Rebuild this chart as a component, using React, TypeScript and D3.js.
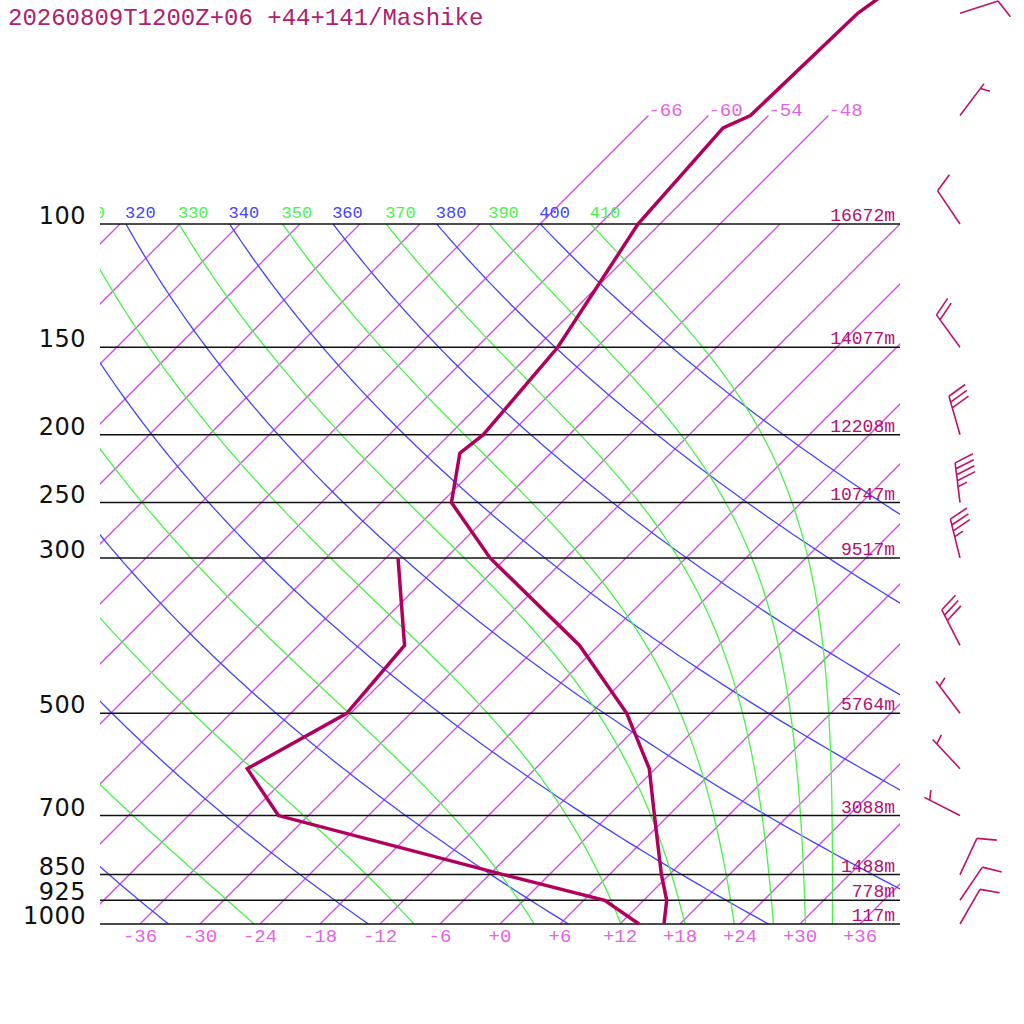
import React from 'react';
import * as d3 from 'd3';

// ---------- data ----------
const titleText = '20260809T1200Z+06 +44+141/Mashike';

const pressureLines = [1000, 925, 850, 700, 500, 300, 250, 200, 150, 100];
const pressureLabels = ['1000', '925', '850', '700', '500', '300', '250', '200', '150', '100'];
const heightLabels = ['117m', '778m', '1488m', '3088m', '5764m', '9517m', '10747m', '12208m', '14077m', '16672m'];

const tempP = [1000, 925, 850, 700, 600, 500, 400, 300, 250, 212.5, 200, 150, 100, 72.9, 70, 50, 30];
const tempT = [16.4, 14.3, 11.2, 4.6, -0.6, -8.4, -19.9, -37.6, -47.0, -51.1, -50.6, -51.9, -56.2, -57.3, -55.8, -55.3, -49.3];

const dewP = [1000, 925, 850, 700, 600, 500, 400, 300];
const dewT = [13.9, 8.1, -4.6, -33.0, -40.8, -36.4, -37.4, -46.8];

const windP = [1000, 925, 850, 700, 600, 500, 400, 300, 250, 200, 150, 100, 70, 50];
const windDir = [30, 34, 25, 297, 317, 323, 333, 346, 353, 344, 324, 326, 37, 72];
const windSpd = [10, 10, 10, 5, 5, 5, 30, 35, 45, 30, 20, 10, 5, 10];

const bottomTicks = [-36, -30, -24, -18, -12, -6, 0, 6, 12, 18, 24, 30, 36];
const upperIsotherms = [-66, -60, -54, -48];
const dryAdiabats = [240, 260, 280, 300, 320, 340, 360, 380, 400];
const moistAdiabats = [250, 270, 290, 310, 330, 350, 370, 390, 410];
const adiabatLabels = [310, 320, 330, 340, 350, 360, 370, 380, 390, 400, 410];

// ---------- geometry ----------
const X0 = 100, X1 = 900, YB = 924, YT = 224;
const yScale = d3.scaleLog().domain([1000, 100]).range([YB, YT]);
const tScale = d3.scaleLinear().domain([-40, 40]).range([X0, X1]);
const sx = (T: number, p: number) => tScale(T) + (YB - yScale(p));

const ISO = 'rgb(216,72,236)';
const ISO_LABEL = 'rgb(226,100,226)';
const BLUE = 'rgb(68,68,255)';
const GREEN = 'rgb(72,244,72)';
const TEMP = 'rgb(176,0,92)';
const HEIGHT = 'rgb(176,16,112)';
const TITLE = 'rgb(176,32,110)';
const BARB = 'rgb(192,16,106)';

function thetaE(Tk: number, p: number) {
  const tc = Tk - 273.15;
  const es = 6.112 * Math.exp((17.67 * tc) / (tc + 243.5));
  if (es > 0.5 * p) return 1e4;
  const r = (622 * es) / (p - es);
  return (
    Tk * Math.pow(1000 / p, 0.2854 * (1 - 0.00028 * r)) *
    Math.exp((3.376 / Tk - 0.00254) * r * (1 + 0.00081 * r))
  );
}
function moistT(te: number, p: number) {
  let lo = 150, hi = 360;
  for (let i = 0; i < 60; i++) {
    const mid = (lo + hi) / 2;
    if (thetaE(mid, p) < te) lo = mid; else hi = mid;
  }
  return (lo + hi) / 2 - 273.15;
}
const dryT = (th: number, p: number) => th * Math.pow(p / 1000, 0.2857) - 273.15;

const pSamples = d3.range(0, 121).map((i) => 1000 * Math.pow(0.1, i / 120));
const lineGen = d3
  .line<[number, number]>()
  .x((d) => sx(d[0], d[1]))
  .y((d) => yScale(d[1]));

const isoValues = d3.range(-108, 37, 6);

function Barb({ p, dir, spd }: { p: number; dir: number; spd: number }) {
  const bx = 960, by = yScale(p);
  const d = (dir * Math.PI) / 180;
  const ux = Math.sin(d), uy = -Math.cos(d);
  const L = 40, step = 6;
  const fa = d + (70 * Math.PI) / 180;
  const fx = Math.sin(fa), fy = -Math.cos(fa);
  const tx = bx + L * ux, ty = by + L * uy;
  const full = Math.floor(spd / 10);
  const half = spd % 10 >= 5;
  const segs: Array<[number, number, number, number]> = [];
  for (let i = 0; i < full; i++) {
    const sx0 = tx - i * step * ux, sy0 = ty - i * step * uy;
    segs.push([sx0, sy0, sx0 + 20 * fx, sy0 + 20 * fy]);
  }
  if (half) {
    const i = full === 0 ? 1 : full;
    const sx0 = tx - i * step * ux, sy0 = ty - i * step * uy;
    segs.push([sx0, sy0, sx0 + 10 * fx, sy0 + 10 * fy]);
  }
  return (
    <g>
      <line x1={bx} y1={by} x2={tx} y2={ty} stroke={BARB} strokeWidth={1.6} />
      {segs.map((s, i) => (
        <line key={i} x1={s[0]} y1={s[1]} x2={s[2]} y2={s[3]} stroke={BARB} strokeWidth={1.6} />
      ))}
    </g>
  );
}

export default function App() {
  const tempPts = tempP.map((p, i) => [tempT[i], p] as [number, number]);
  const dewPts = dewP.map((p, i) => [dewT[i], p] as [number, number]);
  const mono = "'Liberation Mono', 'DejaVu Sans Mono', monospace";

  return (
    <svg
      width={1024}
      height={1024}
      style={{ position: 'absolute', left: 0, top: 0, background: '#fff' }}
    >
      <defs>
        <clipPath id="plotClip">
          <rect x={X0} y={YT} width={X1 - X0} height={YB - YT} />
        </clipPath>
        <clipPath id="labClip">
          <rect x={X0} y={0} width={1024 - X0} height={1024} />
        </clipPath>
      </defs>
      <rect x={0} y={0} width={1024} height={1024} fill="#fff" />

      <text x={8} y={25} fontFamily={mono} fontSize={24} fill={TITLE}>
        {titleText}
      </text>

      {/* isotherms */}
      <g clipPath="url(#plotClip)">
        {isoValues.map((T) => (
          <path key={T} d={lineGen([[T, 1000], [T, 100]]) || ''} fill="none" stroke={ISO} strokeWidth={1.3} />
        ))}
      </g>
      {upperIsotherms.map((T) => (
        <path key={'u' + T} d={lineGen([[T, 100], [T, 70]]) || ''} fill="none" stroke={ISO} strokeWidth={1.3} />
      ))}
      {upperIsotherms.map((T) => (
        <text key={'l' + T} x={sx(T, 70)} y={yScale(70)} fontFamily={mono} fontSize={19} fill={ISO_LABEL}>
          {String(T)}
        </text>
      ))}

      {/* dry adiabats */}
      <g clipPath="url(#plotClip)">
        {dryAdiabats.map((th) => (
          <path
            key={th}
            d={lineGen(pSamples.map((p) => [dryT(th, p), p] as [number, number])) || ''}
            fill="none"
            stroke={BLUE}
            strokeWidth={1.3}
          />
        ))}
      </g>
      {/* moist adiabats */}
      <g clipPath="url(#plotClip)">
        {moistAdiabats.map((te) => (
          <path
            key={te}
            d={lineGen(pSamples.map((p) => [moistT(te, p), p] as [number, number])) || ''}
            fill="none"
            stroke={GREEN}
            strokeWidth={1.3}
          />
        ))}
      </g>
      <g clipPath="url(#labClip)">
        {adiabatLabels.map((v) => {
          const isDry = (v / 10) % 2 === 0;
          const T = isDry ? dryT(v, 100) : moistT(v, 100);
          return (
            <text key={v} x={sx(T, 100) - 1} y={218} fontFamily={mono} fontSize={17} fill={isDry ? BLUE : GREEN}>
              {String(v)}
            </text>
          );
        })}
      </g>

      {/* pressure lines */}
      {pressureLines.map((p, i) => (
        <g key={p}>
          <line x1={X0} x2={X1} y1={yScale(p)} y2={yScale(p)} stroke="#111" strokeWidth={1.5} />
          <text
            x={86}
            y={yScale(p)}
            textAnchor="end"
            fontFamily="'DejaVu Sans', sans-serif"
            fontSize={24}
            letterSpacing={0.5}
            fill="#111"
          >
            {pressureLabels[i]}
          </text>
          <text x={895} y={yScale(p) - 3} textAnchor="end" fontFamily={mono} fontSize={18} fill={HEIGHT}>
            {heightLabels[i]}
          </text>
        </g>
      ))}

      {/* bottom ticks */}
      {bottomTicks.map((T) => (
        <text key={T} x={tScale(T)} y={942} textAnchor="middle" fontFamily={mono} fontSize={19} fill={ISO_LABEL}>
          {T >= 0 ? `+${T}` : String(T)}
        </text>
      ))}

      {/* profiles */}
      <path d={lineGen(dewPts) || ''} fill="none" stroke={TEMP} strokeWidth={3.5} />
      <path d={lineGen(tempPts) || ''} fill="none" stroke={TEMP} strokeWidth={3.5} />

      {/* wind barbs */}
      {windP.map((p, i) => (
        <Barb key={p} p={p} dir={windDir[i]} spd={windSpd[i]} />
      ))}
    </svg>
  );
}
